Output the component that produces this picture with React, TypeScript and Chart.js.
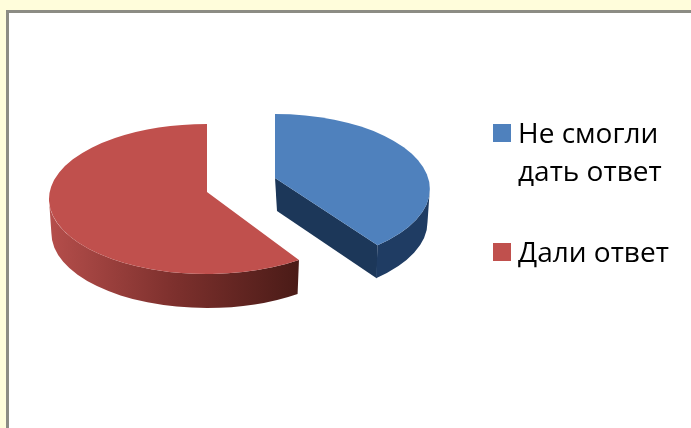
import React, { useEffect, useRef } from "react";
import { Chart, registerables } from "chart.js";

Chart.register(...registerables);

const categories = ["Не смогли дать ответ", "Дали ответ"];
const legendLines = [["Не смогли", "дать ответ"], ["Дали ответ"]];
const values = [39.5, 60.5];
const topColors = ["#4f81bd", "#c0504d"];
const wallStops = [
  ["#1b3556", "#1f3c63", "#234569"],
  ["#b54e4b", "#7d302d", "#4a1b17"],
];
// placement of each exploded slice relative to the pie centre; edgeDeg imitates the perspective of the cut
const slicePlacement = [
  { dx: 34, dy: -1, apexLift: 11, depth: 33, radiusScale: 0.98, edgeDeg: -3.7 },
  { dx: -34, dy: 9, apexLift: 7, depth: 34, radiusScale: 1, edgeDeg: 2.2 },
];
const tilt = 0.475;
const legendRows = [
  { swatchY: 124, lineYs: [143, 181] },
  { swatchY: 243, lineYs: [262] },
];

const pie3d = {
  id: "pie3d",
  beforeDatasetsDraw(chart: any) {
    const ctx = chart.ctx as CanvasRenderingContext2D;
    const meta = chart.getDatasetMeta(0);
    // back to front: red first, then blue
    [1, 0].forEach((i) => {
      const el = meta.data[i];
      const p = slicePlacement[i];
      const rx = el.outerRadius * p.radiusScale;
      const ry = el.outerRadius * tilt;
      const cx = el.x + p.dx;
      const cy = el.y + p.dy;
      const edge = (p.edgeDeg * Math.PI) / 180;
      const a0 = i === 0 ? el.startAngle : el.startAngle + edge;
      const a1 = i === 0 ? el.endAngle + edge : el.endAngle;
      const ax = cx;
      const ay = cy - p.apexLift;
      const tipAngle = i === 0 ? a1 : a0;
      const tx = cx + rx * Math.cos(tipAngle);
      const ty = cy + ry * Math.sin(tipAngle);

      // visible outer wall: part of the slice within 0..PI
      const w0 = Math.max(a0, 0);
      const w1 = Math.min(a1, Math.PI);
      const g = ctx.createLinearGradient(cx - rx, 0, cx + rx * Math.cos(w0), 0);
      wallStops[i].forEach((c, k) => g.addColorStop(k / 2, c));
      if (i === 0) {
        // cut wall of the blue slice
        ctx.fillStyle = "#1c3759";
        ctx.beginPath();
        ctx.moveTo(ax, ay);
        ctx.lineTo(tx, ty);
        ctx.lineTo(tx - 1, ty + p.depth);
        ctx.lineTo(ax + 2, ay + p.depth);
        ctx.closePath();
        ctx.fill();
      }
      if (w1 > w0) {
        ctx.fillStyle = i === 0 ? "#1f3c63" : g;
        ctx.beginPath();
        ctx.ellipse(cx, cy, rx, ry, 0, w0, w1, false);
        ctx.ellipse(cx, cy + p.depth, rx * 0.985, ry, 0, w1, w0, true);
        ctx.closePath();
        ctx.fill();
      }
      // top face
      ctx.fillStyle = el.options.backgroundColor;
      ctx.beginPath();
      ctx.moveTo(ax, ay);
      ctx.ellipse(cx, cy, rx, ry, 0, a0, a1, false);
      ctx.closePath();
      ctx.fill();
    });
    return false;
  },
  afterDraw(chart: any) {
    const ctx = chart.ctx as CanvasRenderingContext2D;
    ctx.save();
    ctx.font = "28px 'Open Sans'";
    ctx.textBaseline = "alphabetic";
    ctx.textAlign = "left";
    legendRows.forEach((row, i) => {
      ctx.fillStyle = topColors[i];
      ctx.fillRect(493, row.swatchY, 18, 18);
      ctx.fillStyle = "#000000";
      legendLines[i].forEach((t, k) => ctx.fillText(t, 518, row.lineYs[k]));
    });
    ctx.restore();
  },
};

export default function App() {
  const ref = useRef<HTMLCanvasElement>(null);
  useEffect(() => {
    document.body.style.margin = "0";
    const chart = new Chart(ref.current!, {
      type: "pie",
      data: {
        labels: categories,
        datasets: [{ data: values, backgroundColor: topColors, borderWidth: 0 }],
      },
      options: {
        animation: false,
        responsive: false,
        layout: { padding: { left: 83, right: 292, top: 32, bottom: 80 } },
        plugins: { legend: { display: false }, tooltip: { enabled: false } },
      },
      plugins: [pie3d],
    });
    return () => chart.destroy();
  }, []);
  return (
    <div style={{ position: "relative", width: 691, height: 428, background: "#fffddb", overflow: "hidden" }}>
      <div
        style={{
          position: "absolute",
          left: 6,
          top: 10,
          width: 700,
          height: 430,
          background: "#ffffff",
          border: "3px solid #8c8c84",
          boxSizing: "border-box",
        }}
      />
      <canvas ref={ref} width={691} height={428} style={{ position: "absolute", left: 0, top: 0, display: "block" }} />
    </div>
  );
}
